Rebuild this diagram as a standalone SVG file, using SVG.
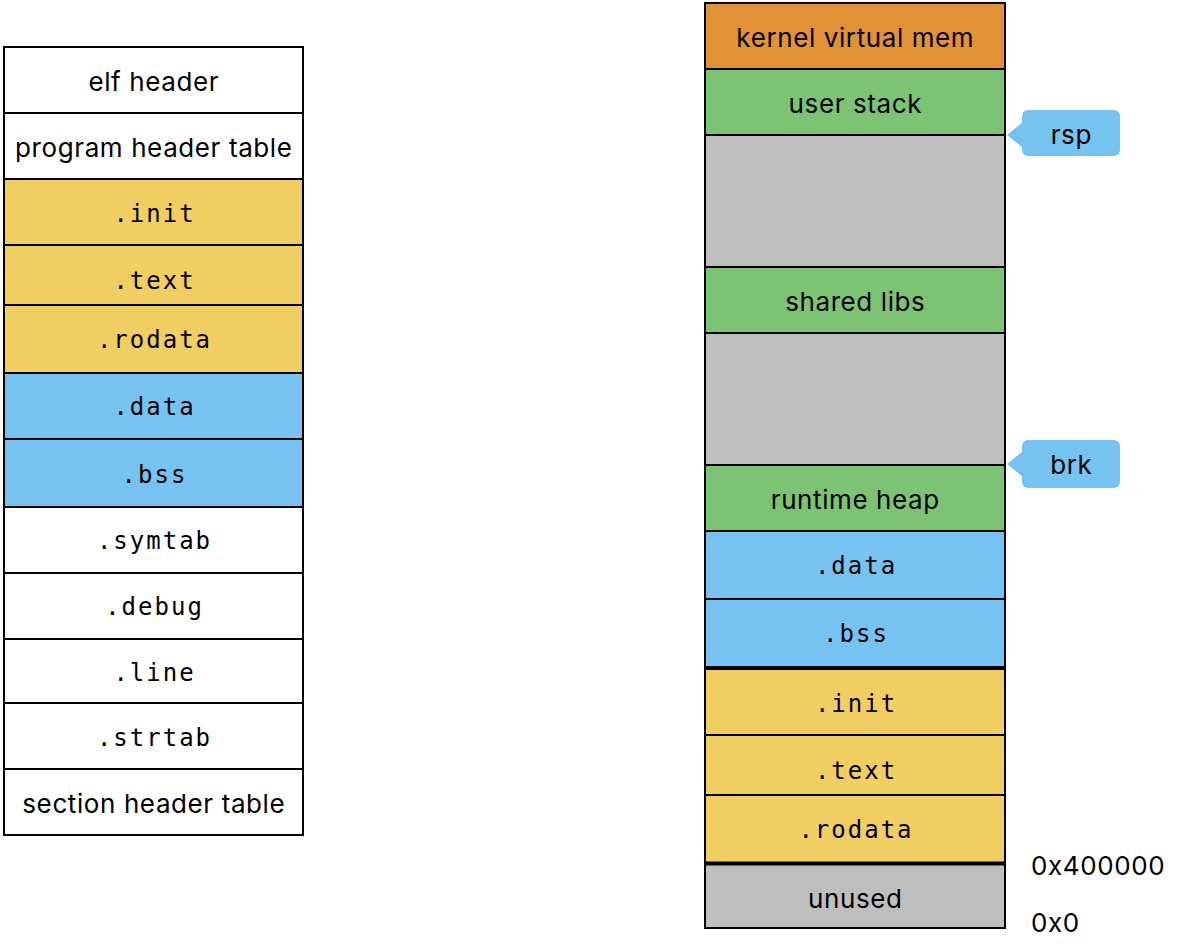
<svg xmlns="http://www.w3.org/2000/svg" width="1178" height="948" viewBox="0 0 1178 948">
<style>
.c{stroke:#000;stroke-width:2}
.w{fill:#fff}.y{fill:#F0CE62}.b{fill:#76C3F2}.g{fill:#7DC374}.o{fill:#E19236}.s{fill:#BFBFBF}
.t{font-family:Inter,"Liberation Sans",sans-serif;font-size:26px;letter-spacing:0.6px;fill:#000;text-anchor:middle}
.m{font-family:"DejaVu Sans Mono","Liberation Mono",monospace;font-size:24px;letter-spacing:2px;fill:#000;text-anchor:middle}
.l{font-family:Inter,"Liberation Sans",sans-serif;font-size:26px;letter-spacing:0.6px;fill:#000}
.k{stroke:#000;stroke-width:4}
</style>
<g id="elf">
<g id="elf-header"><rect class="c w" x="4" y="47" width="299" height="66"/><text class="t" x="153.8" y="91">elf header</text></g>
<g id="elf-pht"><rect class="c w" x="4" y="113" width="299" height="66"/><text class="t" x="153.8" y="157">program header table</text></g>
<g id="elf-init"><rect class="c y" x="4" y="179" width="299" height="66"/><text class="m" x="154.5" y="222">.init</text></g>
<g id="elf-text"><rect class="c y" x="4" y="245" width="299" height="60"/><text class="m" x="154.5" y="289">.text</text></g>
<g id="elf-rodata"><rect class="c y" x="4" y="305" width="299" height="68"/><text class="m" x="154.5" y="348">.rodata</text></g>
<g id="elf-data"><rect class="c b" x="4" y="373" width="299" height="66"/><text class="m" x="154.5" y="415">.data</text></g>
<g id="elf-bss"><rect class="c b" x="4" y="439" width="299" height="68"/><text class="m" x="154.5" y="483">.bss</text></g>
<g id="elf-symtab"><rect class="c w" x="4" y="507" width="299" height="66"/><text class="m" x="154.5" y="549">.symtab</text></g>
<g id="elf-debug"><rect class="c w" x="4" y="573" width="299" height="66"/><text class="m" x="154.5" y="615">.debug</text></g>
<g id="elf-line"><rect class="c w" x="4" y="639" width="299" height="64"/><text class="m" x="154.5" y="681">.line</text></g>
<g id="elf-strtab"><rect class="c w" x="4" y="703" width="299" height="66"/><text class="m" x="154.5" y="746">.strtab</text></g>
<g id="elf-sht"><rect class="c w" x="4" y="769" width="299" height="66"/><text class="t" x="153.8" y="813">section header table</text></g>
</g>
<g id="mem">
<g id="mem-kernel"><rect class="c o" x="705" y="3" width="300" height="66"/><text class="t" x="855.3" y="47">kernel virtual mem</text></g>
<g id="mem-stack"><rect class="c g" x="705" y="69" width="300" height="66"/><text class="t" x="855.3" y="113">user stack</text></g>
<g id="mem-gap1"><rect class="c s" x="705" y="135" width="300" height="132"/></g>
<g id="mem-libs"><rect class="c g" x="705" y="267" width="300" height="66"/><text class="t" x="855.3" y="311">shared libs</text></g>
<g id="mem-gap2"><rect class="c s" x="705" y="333" width="300" height="132"/></g>
<g id="mem-heap"><rect class="c g" x="705" y="465" width="300" height="66"/><text class="t" x="855.3" y="509">runtime heap</text></g>
<g id="mem-data"><rect class="c b" x="705" y="531" width="300" height="68"/><text class="m" x="856" y="574">.data</text></g>
<g id="mem-bss"><rect class="c b" x="705" y="599" width="300" height="68"/><text class="m" x="856" y="642">.bss</text></g>
<g id="mem-init"><rect class="c y" x="705" y="668" width="300" height="67"/><text class="m" x="856" y="712">.init</text></g>
<g id="mem-text"><rect class="c y" x="705" y="735" width="300" height="60"/><text class="m" x="856" y="779">.text</text></g>
<g id="mem-rodata"><rect class="c y" x="705" y="795" width="300" height="68"/><text class="m" x="856" y="838">.rodata</text></g>
<g id="mem-unused"><rect class="c s" x="705" y="864" width="300" height="64"/><text class="t" x="855.3" y="908">unused</text></g>
<line class="k" x1="705" y1="668" x2="1005" y2="668"/>
<line class="k" x1="705" y1="863.5" x2="1005" y2="863.5"/>
</g>
<g id="rsp"><rect class="b" x="1022" y="110" width="98" height="46" rx="6"/><polygon class="b" points="1023,122 1007,135 1023,148"/><text class="t" x="1071.3" y="144">rsp</text></g>
<g id="brk"><rect class="b" x="1022" y="440" width="98" height="48" rx="6"/><polygon class="b" points="1023,451 1007,464 1023,477"/><text class="t" x="1071.3" y="474">brk</text></g>
<g id="addr">
<text class="l" x="1031" y="875">0x400000</text>
<text class="l" x="1031" y="932">0x0</text>
</g>
</svg>
